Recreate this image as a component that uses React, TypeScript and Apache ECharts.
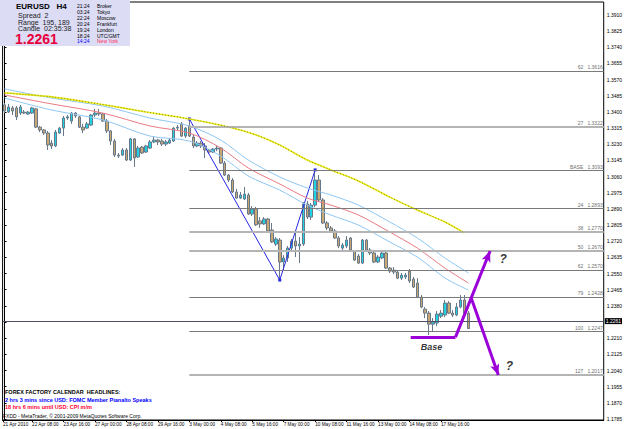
import React, { useEffect, useRef } from "react";
import * as echarts from "echarts";

// ---- data ----
const dateLabels = ["21 Apr 2010", "22 Apr 08:00", "23 Apr 16:00", "27 Apr 00:00", "28 Apr 08:00", "29 Apr 16:00", "3 May 00:00", "4 May 08:00", "5 May 16:00", "7 May 00:00", "10 May 08:00", "11 May 16:00", "13 May 00:00", "14 May 08:00", "17 May 16:00"];
const dateLabelBars = [0, 8, 16, 24, 32, 40, 48, 56, 64, 72, 80, 88, 96, 104, 112];
const priceTicks = [1.3910, 1.3825, 1.3740, 1.3655, 1.3570, 1.3485, 1.3400, 1.3315, 1.3230, 1.3145, 1.3060, 1.2975, 1.2890, 1.2805, 1.2720, 1.2635, 1.2550, 1.2465, 1.2380, 1.2295, 1.2210, 1.2125, 1.2040, 1.1955, 1.1870, 1.1785];

// [open, close, low, high] per H4 bar
const candles = [
  [1.3437, 1.3405, 1.3394, 1.3447], [1.3400, 1.3426, 1.3394, 1.3442], [1.3421, 1.3405, 1.3384, 1.3431], [1.3421, 1.3374, 1.3358, 1.3431],
  [1.3394, 1.3426, 1.3384, 1.3437], [1.3399, 1.3394, 1.3389, 1.3410], [1.3389, 1.3399, 1.3384, 1.3405], [1.3394, 1.3421, 1.3389, 1.3426],
  [1.3416, 1.3320, 1.3315, 1.3421], [1.3320, 1.3305, 1.3294, 1.3326], [1.3305, 1.3289, 1.3279, 1.3310], [1.3289, 1.3226, 1.3200, 1.3300],
  [1.3236, 1.3221, 1.3205, 1.3252], [1.3221, 1.3294, 1.3215, 1.3305], [1.3289, 1.3315, 1.3284, 1.3320], [1.3315, 1.3368, 1.3273, 1.3379],
  [1.3368, 1.3374, 1.3358, 1.3384], [1.3352, 1.3394, 1.3337, 1.3399], [1.3394, 1.3379, 1.3368, 1.3399], [1.3374, 1.3320, 1.3315, 1.3379],
  [1.3320, 1.3305, 1.3289, 1.3337], [1.3315, 1.3337, 1.3310, 1.3347], [1.3331, 1.3384, 1.3326, 1.3389], [1.3384, 1.3394, 1.3374, 1.3416],
  [1.3394, 1.3389, 1.3379, 1.3416], [1.3389, 1.3352, 1.3347, 1.3394], [1.3352, 1.3300, 1.3289, 1.3363], [1.3300, 1.3247, 1.3226, 1.3305],
  [1.3247, 1.3173, 1.3163, 1.3258], [1.3173, 1.3168, 1.3158, 1.3184], [1.3173, 1.3200, 1.3168, 1.3210], [1.3200, 1.3147, 1.3142, 1.3210],
  [1.3147, 1.3258, 1.3142, 1.3263], [1.3258, 1.3158, 1.3111, 1.3263], [1.3163, 1.3210, 1.3158, 1.3221], [1.3215, 1.3184, 1.3179, 1.3221],
  [1.3189, 1.3221, 1.3184, 1.3226], [1.3210, 1.3242, 1.3205, 1.3252], [1.3242, 1.3252, 1.3236, 1.3268], [1.3252, 1.3242, 1.3226, 1.3258],
  [1.3247, 1.3231, 1.3221, 1.3258], [1.3231, 1.3242, 1.3221, 1.3252], [1.3236, 1.3252, 1.3231, 1.3263], [1.3247, 1.3315, 1.3242, 1.3320],
  [1.3315, 1.3320, 1.3305, 1.3331], [1.3337, 1.3273, 1.3268, 1.3347], [1.3273, 1.3315, 1.3263, 1.3320], [1.3326, 1.3273, 1.3268, 1.3363],
  [1.3268, 1.3221, 1.3210, 1.3279], [1.3221, 1.3236, 1.3215, 1.3247], [1.3236, 1.3221, 1.3210, 1.3247], [1.3221, 1.3200, 1.3158, 1.3236],
  [1.3200, 1.3189, 1.3179, 1.3205], [1.3189, 1.3205, 1.3184, 1.3210], [1.3205, 1.3210, 1.3194, 1.3221], [1.3210, 1.3131, 1.3126, 1.3215],
  [1.3131, 1.3068, 1.3063, 1.3142], [1.3068, 1.3042, 1.3031, 1.3074], [1.3042, 1.2979, 1.2974, 1.3052], [1.2979, 1.2947, 1.2942, 1.2995],
  [1.2947, 1.2963, 1.2942, 1.2979], [1.2942, 1.2968, 1.2937, 1.3005], [1.2963, 1.2863, 1.2858, 1.2974], [1.2863, 1.2889, 1.2853, 1.2905],
  [1.2890, 1.2806, 1.2800, 1.2900], [1.2827, 1.2811, 1.2790, 1.2847], [1.2811, 1.2837, 1.2806, 1.2847], [1.2837, 1.2774, 1.2763, 1.2842],
  [1.2779, 1.2716, 1.2711, 1.2816], [1.2705, 1.2732, 1.2695, 1.2742], [1.2726, 1.2611, 1.2516, 1.2737], [1.2611, 1.2632, 1.2568, 1.2647],
  [1.2632, 1.2684, 1.2611, 1.2695], [1.2684, 1.2721, 1.2674, 1.2732], [1.2721, 1.2695, 1.2637, 1.2768], [1.2695, 1.2705, 1.2605, 1.2742],
  [1.2705, 1.2916, 1.2695, 1.2926], [1.2916, 1.2847, 1.2837, 1.2932], [1.2847, 1.2910, 1.2832, 1.2921], [1.2910, 1.3042, 1.2900, 1.3095],
  [1.3042, 1.2937, 1.2926, 1.3068], [1.2937, 1.2816, 1.2811, 1.2947], [1.2816, 1.2790, 1.2779, 1.2826], [1.2790, 1.2774, 1.2763, 1.2800],
  [1.2774, 1.2737, 1.2732, 1.2784], [1.2737, 1.2695, 1.2684, 1.2747], [1.2684, 1.2700, 1.2674, 1.2711], [1.2695, 1.2726, 1.2684, 1.2747],
  [1.2737, 1.2674, 1.2668, 1.2742], [1.2668, 1.2621, 1.2616, 1.2674], [1.2642, 1.2605, 1.2600, 1.2653], [1.2605, 1.2726, 1.2600, 1.2732],
  [1.2726, 1.2674, 1.2663, 1.2732], [1.2674, 1.2658, 1.2647, 1.2684], [1.2658, 1.2611, 1.2605, 1.2663], [1.2611, 1.2637, 1.2605, 1.2647],
  [1.2632, 1.2658, 1.2626, 1.2674], [1.2658, 1.2579, 1.2574, 1.2674], [1.2579, 1.2563, 1.2553, 1.2584], [1.2568, 1.2558, 1.2547, 1.2584],
  [1.2558, 1.2526, 1.2521, 1.2563], [1.2526, 1.2542, 1.2516, 1.2553], [1.2532, 1.2542, 1.2521, 1.2553], [1.2563, 1.2511, 1.2500, 1.2574],
  [1.2521, 1.2479, 1.2474, 1.2532], [1.2500, 1.2426, 1.2421, 1.2526], [1.2426, 1.2374, 1.2368, 1.2437], [1.2363, 1.2342, 1.2316, 1.2374],
  [1.2342, 1.2284, 1.2227, 1.2353], [1.2284, 1.2295, 1.2248, 1.2316], [1.2290, 1.2337, 1.2274, 1.2353], [1.2326, 1.2342, 1.2316, 1.2358],
  [1.2332, 1.2395, 1.2321, 1.2411], [1.2395, 1.2342, 1.2337, 1.2405], [1.2342, 1.2332, 1.2321, 1.2358], [1.2332, 1.2374, 1.2326, 1.2395],
  [1.2374, 1.2411, 1.2368, 1.2437], [1.2411, 1.2342, 1.2337, 1.2437], [1.2342, 1.2261, 1.2258, 1.2353],
];

// indicator lines, [bar, price] read at points along each curve
const upperBand = [[0, 1.3521], [12, 1.3473], [25, 1.3431], [37, 1.3368], [47, 1.3326], [55, 1.3252], [62, 1.3147], [70, 1.3058], [77, 1.3000], [83, 1.2963], [90, 1.2910], [98, 1.2821], [105, 1.2737], [112, 1.2632], [118, 1.2553]];
const middleLine = [[0, 1.3489], [12, 1.3442], [25, 1.3394], [37, 1.3326], [47, 1.3289], [55, 1.3210], [62, 1.3105], [70, 1.3021], [77, 1.2947], [83, 1.2910], [90, 1.2858], [98, 1.2768], [105, 1.2684], [112, 1.2579], [118, 1.2500]];
const lowerBand = [[0, 1.3473], [12, 1.3410], [25, 1.3358], [37, 1.3273], [47, 1.3247], [55, 1.3168], [62, 1.3063], [70, 1.2989], [77, 1.2910], [83, 1.2858], [90, 1.2805], [98, 1.2716], [105, 1.2637], [112, 1.2527], [118, 1.2463]];
const slowAverage = [[0, 1.3500], [12, 1.3479], [24, 1.3442], [36, 1.3400], [47, 1.3363], [57, 1.3321], [64, 1.3279], [70, 1.3226], [77, 1.3147], [83, 1.3095], [90, 1.3037], [98, 1.2952], [105, 1.2884], [112, 1.2821], [117, 1.2763]];

const zigzag = [[47, 1.3363], [70, 1.2516], [79, 1.3095]];

const fibNames = ["62", "27", "BASE", "24", "38", "50", "62", "79", "100", "127"];
const fibPrices = [1.3616, 1.3322, 1.3093, 1.2893, 1.2770, 1.2670, 1.2570, 1.2428, 1.2247, 1.2017];
const fibStartBar = 47;

const baseLine = [[103.3, 1.2216], [114.7, 1.2216]];
const upArrow = [[114.7, 1.2216], [123.5, 1.2669]];
const downArrow = [[118.7, 1.2421], [125.6, 1.2016]];
const notes = [
  { name: "Base", value: [108.6, 1.2164] },
  { name: "?", value: [126.8, 1.2626] },
  { name: "?", value: [128.4, 1.2064] },
];

const bidPrice = 1.2261;

const clockTimes = ["21:24", "03:24", "22:24", "20:24", "19:24", "18:24", "14:24"];
const clockCities = ["Broker", "Tokyo", "Moscow", "Frankfurt", "London", "UTC/GMT", "New York"];
const infoLines = ["Spread  2", "Range  195, 189", "Candle  02:35:38"];
const headlines = [
  "FOREX FACTORY CALENDAR  HEADLINES:",
  "2 hrs 3 mins since USD: FOMC Member Pianalto Speaks",
  "18 hrs 6 mins until USD: CPI m/m",
];
const copyright = "FXDD - MetaTrader, \u00a9 2001-2009 MetaQuotes Software Corp.";

// ---- styling ----
const X_MIN = -0.5;
const X_MAX = 152.4;
const SANS = '"Liberation Sans","DejaVu Sans",sans-serif';
const heavyFib = [1, 4, 5, 9];
const tickValues = dateLabelBars.map((b) => (b === 0 ? b - 0.4 : b - 1));

function buildOption() {
  const fibLines = fibPrices.map((p, i) => {
    const heavy = heavyFib.indexOf(i) >= 0;
    return [
      {
        coord: [fibStartBar, p],
        lineStyle: { color: heavy ? "#b4b4b4" : "#7a7a7a", width: heavy ? 2 : 1, type: "solid" },
        label: { formatter: fibNames[i] + "   " + p.toFixed(4) },
      },
      { coord: [X_MAX, p] },
    ];
  });

  const textEl = (text: string, x: number, y: number, font: string, fill: string) => ({
    type: "text",
    x,
    y,
    z: 101,
    silent: true,
    style: { text, font, fill, align: "left", verticalAlign: "middle", textAlign: "left", textVerticalAlign: "middle" },
  });

  const clockRows = [6, 12, 18, 24, 30, 35.5, 41];
  const graphics: any[] = [
    { type: "rect", z: 100, silent: true, shape: { x: 0, y: 0, width: 130, height: 46 }, style: { fill: "#dcdcf5" } },
    textEl("EURUSD   H4", 16, 6, 'bold 8px "Liberation Sans"', "#000"),
    textEl(infoLines[0], 18, 15, '7px "Liberation Sans"', "#202020"),
    textEl(infoLines[1], 18, 22, '7px "Liberation Sans"', "#202020"),
    textEl(infoLines[2], 18, 28.5, '7px "Liberation Sans"', "#202020"),
    textEl(bidPrice.toFixed(4), 15, 39, 'bold 14px "Liberation Sans"', "#e8003c"),
  ];
  clockTimes.forEach((t, i) => {
    const last = i === clockTimes.length - 1;
    graphics.push(textEl(t, 77, clockRows[i], '5px "Liberation Sans"', last ? "#0000ff" : "#000"));
    graphics.push(textEl(clockCities[i], 97, clockRows[i], '5px "Liberation Sans"', last ? "#ff2a5a" : "#000"));
  });
  graphics.push(textEl(headlines[0], 5, 392, 'bold 5.5px "Liberation Sans"', "#000"));
  graphics.push(textEl(headlines[1], 5, 400, 'bold 5.5px "Liberation Sans"', "#0000ff"));
  graphics.push(textEl(headlines[2], 5, 407, 'bold 5.5px "Liberation Sans"', "#ff0033"));
  graphics.push(textEl(copyright, 3, 416, '5px "Liberation Sans"', "#000"));

  return {
    animation: false,
    backgroundColor: "#ffffff",
    grid: { left: 2, right: 19, top: 2, bottom: 9, show: true, borderColor: "#000", borderWidth: 1, backgroundColor: "transparent" },
    xAxis: {
      type: "value",
      min: X_MIN,
      max: X_MAX,
      axisLine: { show: true, lineStyle: { color: "#000", width: 1 } },
      splitLine: { show: false },
      axisTick: { show: true, length: 2, lineStyle: { color: "#000" }, customValues: tickValues },
      axisLabel: {
        customValues: tickValues,
        formatter: (v: number) => {
          const k = tickValues.indexOf(v);
          return k >= 0 ? dateLabels[k] : "";
        },
        fontSize: 4.7,
        color: "#000",
        align: "left",
        margin: 2,
        fontFamily: SANS,
        hideOverlap: false,
        showMinLabel: true,
        showMaxLabel: true,
      },
    },
    yAxis: {
      type: "value",
      position: "right",
      min: 1.178,
      max: 1.3978,
      axisLine: { show: true, lineStyle: { color: "#000", width: 1 } },
      splitLine: { show: false },
      axisTick: { show: true, length: 2, lineStyle: { color: "#000" }, customValues: priceTicks },
      axisLabel: {
        customValues: priceTicks,
        formatter: (v: number) => v.toFixed(4),
        fontSize: 5,
        color: "#000",
        margin: 3,
        hideOverlap: false,
        fontFamily: SANS,
      },
    },
    graphic: { elements: graphics },
    series: [
      {
        type: "candlestick",
        data: candles.map((c, i) => [i, c[0], c[1], c[2], c[3]]),
        barWidth: 3,
        z: 2,
        itemStyle: { color: "#1fd3e3", color0: "#caa670", borderColor: "#67788a", borderColor0: "#67788a", borderWidth: 1 },
        markLine: {
          silent: true,
          symbol: ["none", "none"],
          animation: false,
          data: [{ yAxis: bidPrice }],
          lineStyle: { color: "#505066", width: 1, type: "solid" },
          label: {
            show: true,
            position: "end",
            distance: 1,
            formatter: bidPrice.toFixed(4),
            color: "#fff",
            backgroundColor: "#000",
            padding: [1, 1, 0, 1],
            fontSize: 5,
            fontFamily: SANS,
          },
        },
      },
      {
        type: "line",
        data: zigzag,
        z: 3,
        symbol: "rect",
        symbolSize: 3,
        itemStyle: { color: "#2626e6" },
        lineStyle: { color: "#2626e6", width: 1 },
        markLine: {
          silent: true,
          symbol: ["none", "none"],
          animation: false,
          label: { show: true, position: "insideEndTop", distance: 1, color: "#707070", fontSize: 5, fontFamily: SANS },
          data: fibLines,
        },
      },
      { type: "line", data: upperBand, z: 4, smooth: 0.3, showSymbol: false, lineStyle: { color: "#8ec6f3", width: 1 } },
      { type: "line", data: lowerBand, z: 4, smooth: 0.3, showSymbol: false, lineStyle: { color: "#8ec6f3", width: 1 } },
      { type: "line", data: middleLine, z: 4, smooth: 0.3, showSymbol: false, lineStyle: { color: "#e87a82", width: 1 } },
      { type: "line", data: slowAverage, z: 4, smooth: 0.3, showSymbol: false, lineStyle: { color: "#eeee20", width: 1.6 } },
      { type: "line", data: slowAverage, z: 5, smooth: 0.3, showSymbol: false, lineStyle: { color: "#8a8a00", width: 1, type: [1, 2] } },
      {
        type: "scatter",
        z: 6,
        symbolSize: 1,
        itemStyle: { color: "rgba(0,0,0,0)" },
        data: notes.map((n) => ({ ...n, label: { fontSize: n.name === "?" ? 12 : 9 } })),
        label: { show: true, formatter: "{b}", position: "inside", color: "#000", fontWeight: "bold", fontStyle: "italic", fontFamily: SANS },
        markLine: {
          silent: true,
          animation: false,
          symbol: ["none", "none"],
          lineStyle: { color: "#9b00d8", width: 3, type: "solid" },
          label: { show: false },
          data: [
            [{ coord: baseLine[0] }, { coord: baseLine[1] }],
            [{ coord: upArrow[0] }, { coord: upArrow[1], symbol: "arrow", symbolSize: [7, 11] }],
            [{ coord: downArrow[0] }, { coord: downArrow[1], symbol: "arrow", symbolSize: [7, 11] }],
          ],
        },
      },
    ],
  };
}

export default function App() {
  const ref = useRef<HTMLDivElement>(null);
  useEffect(() => {
    if (!ref.current) return;
    const chart = echarts.init(ref.current, null, { renderer: "svg" });
    chart.setOption(buildOption() as any);
    return () => chart.dispose();
  }, []);
  return <div ref={ref} style={{ position: "fixed", left: 0, top: 0, width: 625, height: 429, background: "#fff" }} />;
}
